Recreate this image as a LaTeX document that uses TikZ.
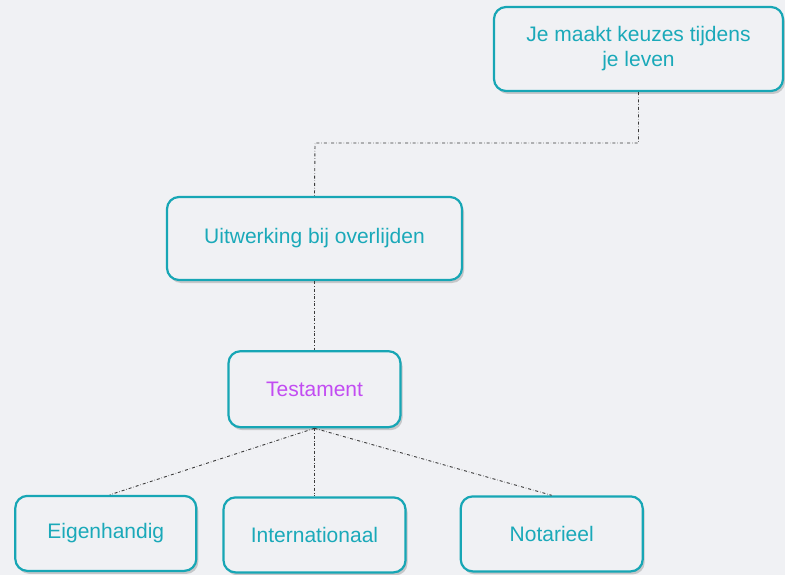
\documentclass[tikz,border=0pt]{standalone}
\usepackage{fontspec}
\setmainfont{Liberation Sans}
\usetikzlibrary{positioning, shadows}

\definecolor{achtergrond}{HTML}{F0F1F4}
\definecolor{kader}{HTML}{17A6B5}
\definecolor{tekst}{HTML}{1AA9B9}
\definecolor{paars}{HTML}{C24CF2}
\definecolor{lijn}{HTML}{3A3A3A}

\begin{document}
\begin{tikzpicture}[x=1pt, y=-1pt,
  vak/.style={rectangle, rounded corners=12pt, draw=kader, line width=2.2pt,
    fill=achtergrond, text=tekst, align=center, inner sep=0pt,
    font=\fontsize{21}{25}\selectfont,
    drop shadow={shadow xshift=2pt, shadow yshift=-3pt, opacity=0.3, fill=black!60}},
  lijnstuk/.style={dash dot, line width=0.9pt, draw=lijn}]

% Achtergrond
\fill[achtergrond] (0,0) rectangle (785,575);
\useasboundingbox (0,0) rectangle (785,575);

% Nodes
\node (keuze) [vak, minimum width=289pt, minimum height=84pt] at (638.5,49) {Je maakt keuzes tijdens\\je leven};
\node (uitw) [vak, minimum width=295pt, minimum height=83pt] at (314.5,238.5) {Uitwerking bij overlijden};
\node (test) [vak, text=paars, minimum width=172pt, minimum height=76pt, below=69pt of uitw] {Testament};
\node (intl) [vak, minimum width=182pt, minimum height=75pt, below=68pt of test] {Internationaal};
\node (eigen) [vak, minimum width=181pt, minimum height=75pt, left=25pt of intl, yshift=1.5pt] {Eigenhandig};
\node (notar) [vak, minimum width=182pt, minimum height=75pt, right=53pt of intl, yshift=1pt] {Notarieel};
\coordinate (knik) at (315,143);

% Lijnen
\draw[lijnstuk] (keuze.south) |- (knik) -- (uitw.north);
\draw[lijnstuk] (uitw.south) -- (test.north);
\draw[lijnstuk] (test.south) -- ([xshift=4pt]eigen.north);
\draw[lijnstuk] (test.south) -- (intl.north);
\draw[lijnstuk] (test.south) -- (notar.north);

\end{tikzpicture}
\end{document}
